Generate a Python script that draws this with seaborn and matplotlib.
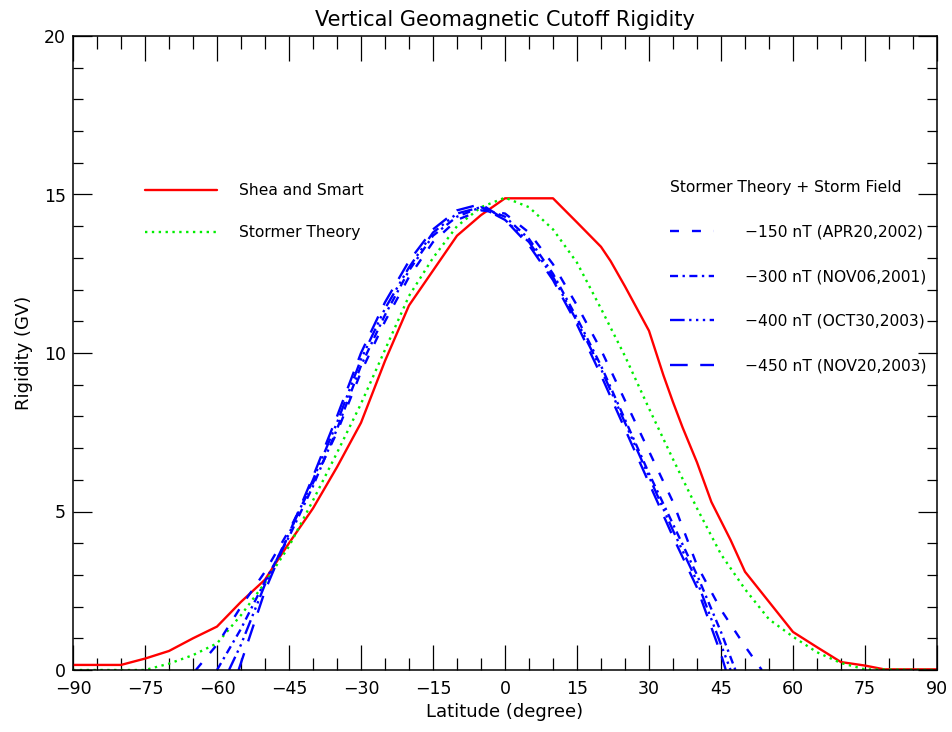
import numpy as np
import pandas as pd
import seaborn as sns
import matplotlib
matplotlib.use("Agg")
import matplotlib.pyplot as plt
from matplotlib.lines import Line2D

# ---------------- data ----------------
lat_shea = [-90, -80, -75, -70, -65, -60, -55, -50, -47, -45, -40, -35, -30, -25, -20,
            -15, -10, -5, 0, 5, 10, 15, 20, 22, 25, 30, 33, 35, 37, 40, 43, 47, 50,
            55, 60, 65, 70, 75, 79, 90]
rig_shea = [0.16, 0.16, 0.36, 0.6, 1.0, 1.37, 2.15, 2.85, 3.55, 4.0, 5.1, 6.4, 7.8, 9.75, 11.5,
            12.6, 13.7, 14.35, 14.88, 14.88, 14.88, 14.12, 13.35, 12.9, 12.1, 10.7, 9.3, 8.45, 7.65, 6.55, 5.3, 4.1, 3.1,
            2.15, 1.2, 0.72, 0.25, 0.14, 0.02, 0.02]

lat_stormer = [-90, -75, -70, -65, -60, -55, -50, -45, -40, -35, -30, -25, -20, -15, -10, -5, 0,
               5, 10, 15, 20, 25, 30, 35, 40, 45, 50, 55, 60, 65, 70, 75, 90]
rig_stormer = [0.0, 0.0, 0.2, 0.47, 0.84, 1.73, 2.75, 3.9, 5.35, 6.85, 8.4, 10.1, 11.8, 13.0, 14.0, 14.6, 14.9,
               14.6, 13.9, 12.85, 11.4, 9.9, 8.25, 6.65, 5.1, 3.65, 2.55, 1.6, 1.05, 0.56, 0.22, 0.02, 0.0]

lat_150 = [-64.4, -60, -55, -50, -45, -40, -35, -30, -25, -20, -15, -10, -5, 0, 5, 10, 15, 20, 25, 30, 35, 40, 45, 50, 53.5]
rig_150 = [0.0, 0.8, 2.0, 3.1, 4.4, 5.9, 7.5, 9.4, 11.0, 12.4, 13.5, 14.2, 14.5, 14.4, 13.8, 12.8, 11.5, 10.1, 8.5, 6.9, 5.3, 3.3, 1.9, 0.75, 0.0]

lat_300 = [-60, -55, -50, -45, -40, -35, -30, -25, -20, -15, -10, -5, 0, 5, 10, 15, 20, 25, 30, 35, 40, 45, 48]
rig_300 = [0.0, 1.3, 2.8, 4.2, 5.8, 7.6, 9.6, 11.2, 12.6, 13.7, 14.3, 14.6, 14.3, 13.6, 12.5, 11.1, 9.6, 7.9, 6.2, 4.6, 3.0, 1.2, 0.0]

lat_400 = [-57.5, -55, -50, -45, -40, -35, -30, -25, -20, -15, -10, -5, 0, 5, 10, 15, 20, 25, 30, 35, 40, 45, 47]
rig_400 = [0.0, 0.8, 2.7, 4.3, 6.0, 7.8, 9.8, 11.4, 12.7, 13.8, 14.4, 14.6, 14.2, 13.5, 12.4, 11.0, 9.5, 7.8, 6.1, 4.4, 2.8, 0.8, 0.0]

lat_450 = [-55.5, -50, -45, -40, -35, -30, -25, -20, -15, -10, -5, 0, 5, 10, 15, 20, 25, 30, 35, 40, 45, 46]
rig_450 = [0.0, 2.5, 4.3, 6.1, 8.0, 10.0, 11.6, 12.9, 13.9, 14.5, 14.7, 14.2, 13.4, 12.3, 10.9, 9.3, 7.6, 5.9, 4.2, 2.6, 0.5, 0.0]

label_shea = "Shea and Smart"
label_stormer = "Stormer Theory"
storm_title = "Stormer Theory + Storm Field"
storm_labels = ["\u2212150 nT (APR20,2002)", "\u2212300 nT (NOV06,2001)",
                "\u2212400 nT (OCT30,2003)", "\u2212450 nT (NOV20,2003)"]

x_ticks = list(range(-90, 91, 15))
y_ticks = [0, 5, 10, 15, 20]

# ---------------- styling ----------------
sns.set_theme(style="white")
plt.rcParams['font.family'] = ['DejaVu Sans']
plt.rcParams['text.color'] = 'black'
plt.rcParams['axes.labelcolor'] = 'black'
plt.rcParams['xtick.color'] = 'black'
plt.rcParams['ytick.color'] = 'black'

RED = '#ff0000'
GREEN = '#00ee00'
BLUE = '#0000ff'
LW = 1.7

ls_150 = (0, (3.8, 5.5))
ls_300 = (0, (3.4, 1.9, 1.0, 1.9))
ls_400 = (0, (6.2, 1.9, 1.0, 1.9, 1.0, 1.9, 1.0, 1.9))
ls_450 = (0, (7.5, 5.3))
ls_dot = (0, (1.0, 1.9))

fig = plt.figure(figsize=(9.53, 7.32), dpi=100)
ax = fig.add_axes([73/953, 62/732, 864/953, 634/732])

sns.lineplot(x=lat_shea, y=rig_shea, color=RED, lw=LW, ax=ax, sort=False)
sns.lineplot(x=lat_stormer, y=rig_stormer, color=GREEN, lw=LW, linestyle=ls_dot, ax=ax, sort=False)
for lx, ry, ls in [(lat_150, rig_150, ls_150), (lat_300, rig_300, ls_300),
                   (lat_400, rig_400, ls_400), (lat_450, rig_450, ls_450)]:
    sns.lineplot(x=lx, y=ry, color=BLUE, lw=LW, linestyle=ls, ax=ax, sort=False)

ax.set_xlim(-90, 90)
ax.set_ylim(0, 20)
ax.set_xticks(x_ticks)
ax.set_xticklabels([str(t).replace('-', '\u2212') for t in x_ticks])
ax.set_yticks(y_ticks)
ax.set_yticklabels([str(t) for t in y_ticks])
ax.xaxis.set_minor_locator(matplotlib.ticker.MultipleLocator(5))
ax.yaxis.set_minor_locator(matplotlib.ticker.MultipleLocator(1))

ax.tick_params(axis='x', which='major', direction='in', length=18, width=0.9, top=True, bottom=True,
               labelsize=12.5, pad=7, color='black', labelcolor='black')
ax.tick_params(axis='x', which='minor', direction='in', length=9, width=0.9, top=True, bottom=True, color='black')
ax.tick_params(axis='y', which='major', direction='in', length=13.5, width=0.9, left=True, right=True,
               labelsize=12.5, pad=5, color='black', labelcolor='black')
ax.tick_params(axis='y', which='minor', direction='in', length=7.5, width=0.9, left=True, right=True, color='black')
for sp in ax.spines.values():
    sp.set_visible(True)
    sp.set_color('black')
    sp.set_linewidth(1.1)

ax.set_xlabel("Latitude (degree)", fontsize=13, labelpad=4, color='black')
ax.set_ylabel("Rigidity (GV)", fontsize=13, labelpad=8, color='black')
ax.set_title("Vertical Geomagnetic Cutoff Rigidity", fontsize=15, pad=7, color='black')

# legends
fs = 11.2
h1 = [Line2D([], [], color=RED, lw=LW), Line2D([], [], color=GREEN, lw=LW, linestyle=ls_dot)]
leg1 = ax.legend(h1, [label_shea, label_stormer], loc='upper left',
                 bbox_to_anchor=(145/953, 1 - 183/732), bbox_transform=fig.transFigure,
                 frameon=False, fontsize=fs, handlelength=4.6, handletextpad=1.45,
                 labelspacing=1.75, borderpad=0, borderaxespad=0, labelcolor='black')
ax.add_artist(leg1)

h2 = [Line2D([], [], color=BLUE, lw=LW, linestyle=s) for s in (ls_150, ls_300, ls_400, ls_450)]
leg2 = ax.legend(h2, storm_labels, title=storm_title, title_fontsize=fs, loc='upper left',
                 bbox_to_anchor=(670/953, 1 - 180/732), bbox_transform=fig.transFigure,
                 frameon=False, fontsize=fs, handlelength=2.8, handletextpad=2.05,
                 labelspacing=1.9, borderpad=0, borderaxespad=0, alignment='left',
                 labelcolor='black')
leg2.get_title().set_color('black')

fig.savefig("out.png", dpi=100, facecolor='white')
